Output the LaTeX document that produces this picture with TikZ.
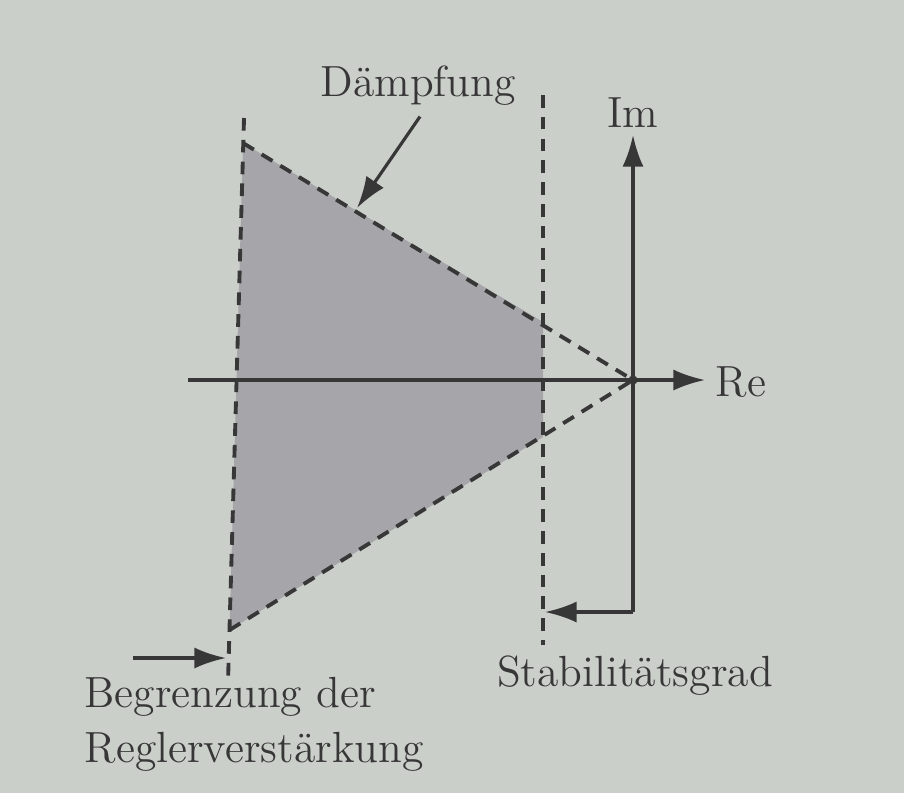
\documentclass[tikz,border=0pt]{standalone}
\usepackage{tikz,xcolor}
\usetikzlibrary{arrows.meta,calc}
\definecolor{paper}{RGB}{203,207,202}
\definecolor{flaeche}{RGB}{166,165,170}
\definecolor{ink}{RGB}{55,55,55}
\tikzset{
  achse/.style={ink,line width=0.9pt},
  grenze/.style={ink,line width=1.1pt,dash pattern=on 3.6pt off 2.6pt},
  pfeil/.style={ink,line width=0.9pt,-{Latex[length=9pt,width=6pt]}},
  beschr/.style={ink,font=\fontsize{12.4}{15.6}\selectfont,inner sep=0pt}
}
\begin{document}
\begin{tikzpicture}[x=0.01cm,y=-0.01cm]
\fill[paper] (0,0) rectangle (904,793);
\useasboundingbox (0,0) rectangle (904,793);
% Eckpunkte
\coordinate (O) at (633,380);
\coordinate (A) at (243,143);
\coordinate (B) at (229.5,630);
\coordinate (C) at (543,322);
\coordinate (D) at (543,437);
\coordinate (L1) at (244,118);
\coordinate (L2) at (228,682);
\coordinate (R1) at (543,95);
\coordinate (R2) at (543,645);
\coordinate (ReL) at (188,380);
\coordinate (ReR) at (705,380);
\coordinate (ImU) at (633,612);
\coordinate (ImO) at (633,135);
\coordinate (S) at (545,612);
\coordinate (P) at (357,208);
\coordinate (G1) at (133,658);
\coordinate (G2) at (226,658);
% Gebiet
\fill[flaeche] (A) -- (C) -- (D) -- (B) -- cycle;
% Achsen
\draw[achse] (ReL) -- (O);
\draw[pfeil] (O) -- (ReR);
\draw[pfeil] (ImU) -- (ImO);
% Grenzen
\draw[grenze] (L1) -- (L2);
\draw[grenze] (R1) -- (R2);
\draw[grenze] (A) -- (O);
\draw[grenze] (B) -- (O);
\fill[ink] (O) circle(1.3pt);
% Beschriftung
\node[beschr] (im) at (633,113) {Im};
\node[beschr] (re) at (741,382) {Re};
\node[beschr] (daempf) at (418,86) {D\"ampfung};
\node[beschr] (stab) at (635,676) {Stabilit\"atsgrad};
\node[beschr,align=left,anchor=north west] (begr) at (84,677) {Begrenzung der\\Reglerverst\"arkung};
\draw[pfeil] ($(daempf.south)+(2,10)$) -- (P);
\draw[pfeil] (ImU) -- (S);
\draw[pfeil] (G1) -- (G2);
\end{tikzpicture}
\end{document}
